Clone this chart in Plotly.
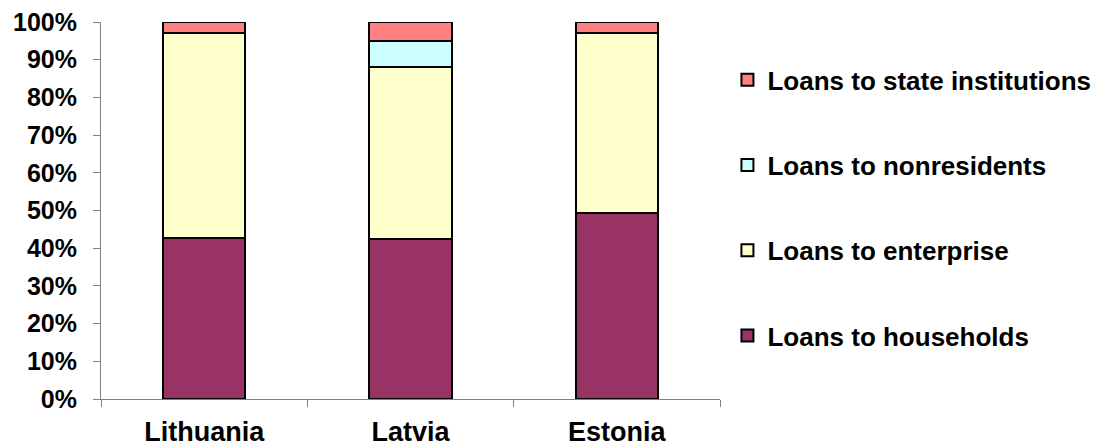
import plotly.graph_objects as go

countries = ["Lithuania", "Latvia", "Estonia"]
households = [42.6, 42.4, 49.4]
enterprise = [54.5, 45.6, 47.6]
nonresidents = [0.0, 6.9, 0.0]
state_inst = [2.9, 5.1, 3.0]

series = [
    ("Loans to households", households, "#993366"),
    ("Loans to enterprise", enterprise, "#FFFFCC"),
    ("Loans to nonresidents", nonresidents, "#CCFFFF"),
    ("Loans to state institutions", state_inst, "#FF8080"),
]

fig = go.Figure()
for i, (name, vals, col) in enumerate(series):
    fig.add_trace(go.Bar(
        x=countries, y=vals, name=name, legendgroup=name,
        legendrank=len(series) - i,
        marker=dict(color=col, line=dict(color="black", width=2)),
        width=0.4,
    ))

font_family = "Liberation Sans, Arial, sans-serif"
fig.update_layout(
    width=1098, height=438,
    barmode="stack",
    plot_bgcolor="white", paper_bgcolor="white",
    margin=dict(l=93, r=386, t=14, b=47, autoexpand=False),
    font=dict(family=font_family, color="black"),
    showlegend=True,
    legend=dict(
        x=1.012, y=0.909, xanchor="left", yanchor="top",
        traceorder="grouped", tracegroupgap=48.5,
        font=dict(size=26, family=font_family, color="black", weight="bold"),
        bgcolor="rgba(0,0,0,0)",
    ),
    xaxis=dict(
        showline=True, linecolor="#808080", linewidth=1,
        ticks="outside", tickson="boundaries", ticklen=7, tickcolor="#808080",
        tickfont=dict(size=27, weight="bold", family=font_family),
        showgrid=False, ticklabelstandoff=9, automargin=False,
    ),
    yaxis=dict(
        range=[0, 100], tickvals=[0, 10, 20, 30, 40, 50, 60, 70, 80, 90, 100],
        ticktext=["0%", "10%", "20%", "30%", "40%", "50%", "60%", "70%", "80%", "90%", "100%"],
        showline=True, linecolor="#808080", linewidth=1,
        ticks="outside", ticklen=7, tickcolor="#808080",
        tickfont=dict(size=25, weight="bold", family=font_family),
        showgrid=False, zeroline=False, ticklabelstandoff=11, automargin=False,
        ticklabeloverflow="allow",
    ),
)

fig.write_html("out.html")
